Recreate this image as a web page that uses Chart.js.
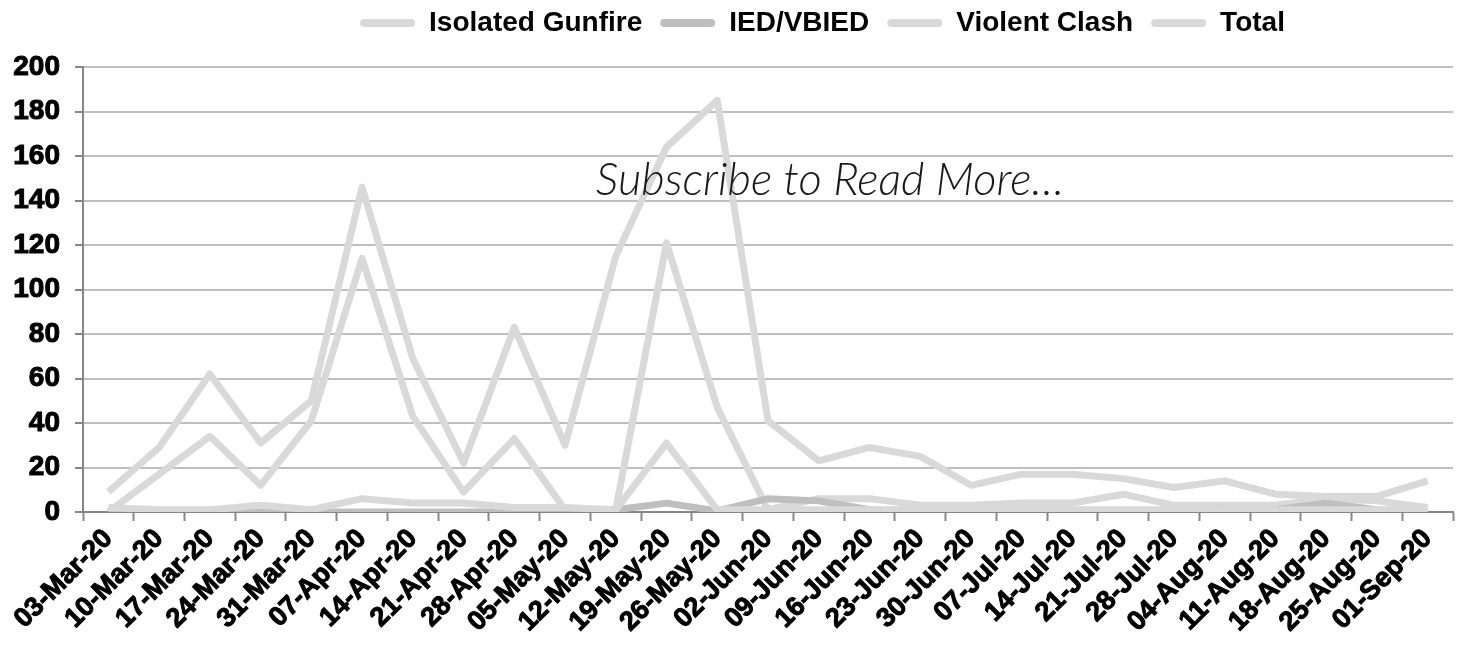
<!DOCTYPE html>
<html>
<head>
<meta charset="utf-8">
<title>Weekly incidents, Mar-Sep 2020</title>
<script src="https://cdn.jsdelivr.net/npm/chart.js@4.4.1/dist/chart.umd.min.js"></script>
<style>
  html, body { margin: 0; padding: 0; background: #fff; }
  #wrap { width: 1460px; height: 647px; position: relative; }
</style>
</head>
<body>
<div id="wrap"><canvas id="chart"></canvas></div>
<script>
// weekly values
const weeks = ['03-Mar-20', '10-Mar-20', '17-Mar-20', '24-Mar-20', '31-Mar-20', '07-Apr-20', '14-Apr-20',
  '21-Apr-20', '28-Apr-20', '05-May-20', '12-May-20', '19-May-20', '26-May-20', '02-Jun-20', '09-Jun-20',
  '16-Jun-20', '23-Jun-20', '30-Jun-20', '07-Jul-20', '14-Jul-20', '21-Jul-20', '28-Jul-20', '04-Aug-20',
  '11-Aug-20', '18-Aug-20', '25-Aug-20', '01-Sep-20'];

const isolatedGunfire = [0, 17, 34, 12, 41, 114, 43, 9, 33, 1, 1, 121, 47, 1, 6, 6, 3, 3, 4, 4, 8, 3, 3, 3, 6, 5, 2];
const iedVbied = [0, 0, 0, 0, 0, 0, 0, 0, 0, 0, 1, 4, 0.5, 6, 5, 1, 0, 0, 0, 0, 0, 0, 1, 1, 4, 1, 0];
const violentClash = [2, 1, 1, 3, 1, 6, 4, 4, 2, 2, 1, 31, 1, 1, 1, 1, 1, 1, 1, 1, 1, 1, 1, 1, 1, 1, 1];
const total = [9, 29, 62, 31, 50, 146, 69, 22, 83, 30, 115, 164, 185, 41, 23, 29, 25, 12, 17, 17, 15, 11, 14, 8, 7, 7, 14];

const yMax = 200;
const yStep = 20;
const noteText = 'Subscribe to Read More\u2026';

const LIGHT = '#d9d9d9';
const DARK = '#bfbfbf';
const AXIS = '#868686';
const FONT = "'Liberation Sans', Arial, sans-serif";

function line(label, data, color, order) {
    return {
        label: label,
        data: data,
        borderColor: color,
        backgroundColor: color,
        borderWidth: 7,
        borderJoinStyle: 'round',
        pointRadius: 0,
        pointHoverRadius: 0,
        tension: 0,
        fill: false,
        order: order
    };
}

// move the legend to where it sits in the original
const legendShift = {
    id: 'legendShift',
    afterLayout(chart) {
        const lg = chart.legend;
        if (!lg) return;
        lg.left += 96; lg.right += 96;
        lg.top -= 20; lg.bottom -= 20;
    }
};

// the italic note across the plot
const note = {
    id: 'note',
    afterDatasetsDraw(chart) {
        const ctx = chart.ctx;
        ctx.save();
        ctx.font = "italic 300 40px Lato, 'Open Sans', sans-serif";
        const w = ctx.measureText(noteText).width;
        const size = 40 * 468 / w;
        ctx.font = "italic 300 " + size.toFixed(1) + "px Lato, 'Open Sans', sans-serif";
        ctx.fillStyle = '#1a1a1a';
        ctx.textAlign = 'center';
        ctx.textBaseline = 'alphabetic';
        ctx.fillText(noteText, 830, 195);
        ctx.restore();
    }
};

new Chart(document.getElementById('chart'), {
    type: 'line',
    data: {
        labels: weeks,
        datasets: [
            line('Isolated Gunfire', isolatedGunfire, LIGHT, 4),
            line('IED/VBIED', iedVbied, DARK, 3),
            line('Violent Clash', violentClash, LIGHT, 2),
            line('Total', total, LIGHT, 1)
        ]
    },
    options: {
        responsive: true,
        maintainAspectRatio: false,
        animation: false,
        devicePixelRatio: 1,
        layout: { padding: { left: 0, right: 7, top: 0, bottom: 0 } },
        scales: {
            x: {
                offset: true,
                grid: {
                    offset: true,
                    drawOnChartArea: false,
                    drawTicks: true,
                    tickLength: 9,
                    tickColor: AXIS,
                    tickWidth: 2
                },
                border: { color: AXIS, width: 2 },
                ticks: {
                    autoSkip: false,
                    minRotation: 45,
                    maxRotation: 45,
                    padding: 2,
                    color: '#000',
                    textStrokeColor: '#000',
                    textStrokeWidth: 1,
                    font: { family: FONT, size: 27, weight: 'bold' }
                },
                afterFit(s) {
                    s.height = 135;
                    s.paddingLeft = 0;
                    s.paddingRight = 0;
                }
            },
            y: {
                min: 0,
                max: yMax,
                grid: {
                    color: DARK,
                    lineWidth: 2,
                    drawTicks: true,
                    tickLength: 8,
                    tickColor: AXIS,
                    tickWidth: 2
                },
                border: { color: AXIS, width: 2 },
                ticks: {
                    stepSize: yStep,
                    padding: 15,
                    color: '#000',
                    textStrokeColor: '#000',
                    textStrokeWidth: 1,
                    font: { family: FONT, size: 28, weight: 'bold' }
                },
                afterFit(s) {
                    s.width = 83;
                    s.paddingTop = 67;
                    s.paddingBottom = 0;
                }
            }
        },
        plugins: {
            tooltip: { enabled: false },
            legend: {
                position: 'top',
                labels: {
                    boxWidth: 55,
                    boxHeight: 8,
                    padding: 18,
                    useBorderRadius: true,
                    borderRadius: 4,
                    color: '#000',
                    font: { family: FONT, size: 28, weight: 'bold' },
                    generateLabels(chart) {
                        return chart.data.datasets.map((ds, i) => ({
                            text: ds.label,
                            fillStyle: ds.borderColor,
                            strokeStyle: ds.borderColor,
                            lineWidth: 0,
                            borderRadius: 4,
                            fontColor: '#000',
                            hidden: !chart.isDatasetVisible(i),
                            datasetIndex: i
                        }));
                    }
                }
            }
        }
    },
    plugins: [legendShift, note]
});
</script>
</body>
</html>
